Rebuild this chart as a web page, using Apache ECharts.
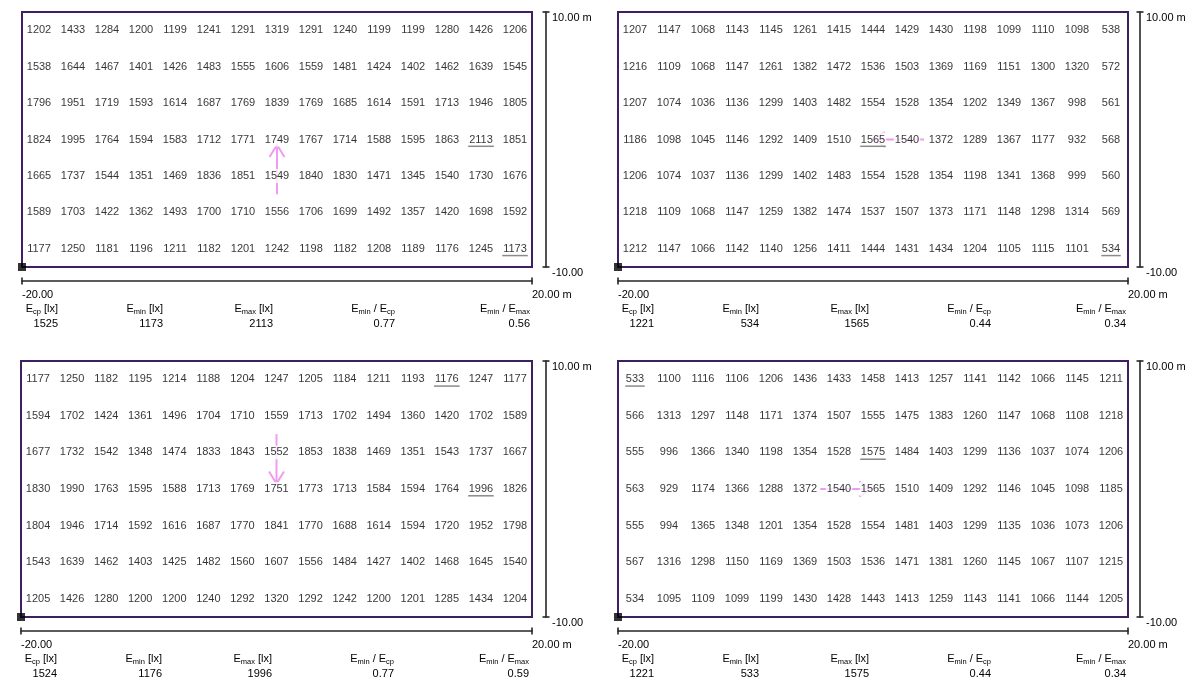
<!DOCTYPE html>
<html><head><meta charset="utf-8">
<script src="https://cdn.jsdelivr.net/npm/echarts@6/dist/echarts.min.js"></script>
<style>html,body{margin:0;padding:0;background:#fff}#c{width:1200px;height:700px}</style>
</head><body><div id="c"></div>
<script>
// ---------- data ----------
const colCount = 15, rowCount = 7;
const xRange = [-20, 20];
const yRange = [-10, 10];
const xTickLabels = ['-20.00', '20.00 m'];
const yTickLabels = ['-10.00', '10.00 m'];
const statLabels = [
  '{n|E}{s|cp}{n| [lx]}',
  '{n|E}{s|min}{n| [lx]}',
  '{n|E}{s|max}{n| [lx]}',
  '{n|E}{s|min}{n| / E}{s|cp}',
  '{n|E}{s|min}{n| / E}{s|max}'
];

const gridA = [
  [1202,1433,1284,1200,1199,1241,1291,1319,1291,1240,1199,1199,1280,1426,1206],
  [1538,1644,1467,1401,1426,1483,1555,1606,1559,1481,1424,1402,1462,1639,1545],
  [1796,1951,1719,1593,1614,1687,1769,1839,1769,1685,1614,1591,1713,1946,1805],
  [1824,1995,1764,1594,1583,1712,1771,1749,1767,1714,1588,1595,1863,2113,1851],
  [1665,1737,1544,1351,1469,1836,1851,1549,1840,1830,1471,1345,1540,1730,1676],
  [1589,1703,1422,1362,1493,1700,1710,1556,1706,1699,1492,1357,1420,1698,1592],
  [1177,1250,1181,1196,1211,1182,1201,1242,1198,1182,1208,1189,1176,1245,1173]
];
const gridB = [
  [1207,1147,1068,1143,1145,1261,1415,1444,1429,1430,1198,1099,1110,1098,538],
  [1216,1109,1068,1147,1261,1382,1472,1536,1503,1369,1169,1151,1300,1320,572],
  [1207,1074,1036,1136,1299,1403,1482,1554,1528,1354,1202,1349,1367,998,561],
  [1186,1098,1045,1146,1292,1409,1510,1565,1540,1372,1289,1367,1177,932,568],
  [1206,1074,1037,1136,1299,1402,1483,1554,1528,1354,1198,1341,1368,999,560],
  [1218,1109,1068,1147,1259,1382,1474,1537,1507,1373,1171,1148,1298,1314,569],
  [1212,1147,1066,1142,1140,1256,1411,1444,1431,1434,1204,1105,1115,1101,534]
];
const gridC = [
  [1177,1250,1182,1195,1214,1188,1204,1247,1205,1184,1211,1193,1176,1247,1177],
  [1594,1702,1424,1361,1496,1704,1710,1559,1713,1702,1494,1360,1420,1702,1589],
  [1677,1732,1542,1348,1474,1833,1843,1552,1853,1838,1469,1351,1543,1737,1667],
  [1830,1990,1763,1595,1588,1713,1769,1751,1773,1713,1584,1594,1764,1996,1826],
  [1804,1946,1714,1592,1616,1687,1770,1841,1770,1688,1614,1594,1720,1952,1798],
  [1543,1639,1462,1403,1425,1482,1560,1607,1556,1484,1427,1402,1468,1645,1540],
  [1205,1426,1280,1200,1200,1240,1292,1320,1292,1242,1200,1201,1285,1434,1204]
];
const gridD = [
  [533,1100,1116,1106,1206,1436,1433,1458,1413,1257,1141,1142,1066,1145,1211],
  [566,1313,1297,1148,1171,1374,1507,1555,1475,1383,1260,1147,1068,1108,1218],
  [555,996,1366,1340,1198,1354,1528,1575,1484,1403,1299,1136,1037,1074,1206],
  [563,929,1174,1366,1288,1372,1540,1565,1510,1409,1292,1146,1045,1098,1185],
  [555,994,1365,1348,1201,1354,1528,1554,1481,1403,1299,1135,1036,1073,1206],
  [567,1316,1298,1150,1169,1369,1503,1536,1471,1381,1260,1145,1067,1107,1215],
  [534,1095,1109,1099,1199,1430,1428,1443,1413,1259,1143,1141,1066,1144,1205]
];

const statsA = ['1525', '1173', '2113', '0.77', '0.56'];
const statsB = ['1221', '534', '1565', '0.44', '0.34'];
const statsC = ['1524', '1176', '1996', '0.77', '0.59'];
const statsD = ['1221', '533', '1575', '0.44', '0.34'];

// underlined cells (min / max) : [row, col]
const marksA = [[3, 13], [6, 14]];
const marksB = [[3, 7], [6, 14]];
const marksC = [[0, 12], [3, 13]];
const marksD = [[0, 0], [2, 7]];

// gradient arrows in cell units: [fromRow, fromCol, toRow, toCol]
const arrowA = [4.5, 7, 3.15, 7];
const arrowB = [3, 8.5, 3, 7.0];
const arrowC = [1.5, 7, 2.85, 7];
const arrowD = [3, 5.45, 3, 6.95];

// ---------- layout / style ----------
const FONT = "'Liberation Sans', Arial, sans-serif";
const PINK = '#f09cf0';
const BORDER = '#3e1f63';
const SCALE = '#262626';
const statRightEnds = [36, 141, 251, 373, 508];

const panels = [
  { grid: gridA, stats: statsA, marks: marksA, arrow: arrowA, left: 22,  top: 12,  width: 510, height: 255, yOff: 14 },
  { grid: gridB, stats: statsB, marks: marksB, arrow: arrowB, left: 618, top: 12,  width: 510, height: 255, yOff: 12 },
  { grid: gridC, stats: statsC, marks: marksC, arrow: arrowC, left: 21,  top: 361, width: 511, height: 256, yOff: 14 },
  { grid: gridD, stats: statsD, marks: marksD, arrow: arrowD, left: 618, top: 361, width: 510, height: 256, yOff: 12 }
];

const cellX = c => xRange[0] + (c + 0.5) * (xRange[1] - xRange[0]) / colCount;
const cellY = r => yRange[1] - (r + 0.5) * (yRange[1] - yRange[0]) / rowCount;

const grids = [], xAxes = [], yAxes = [], series = [], graphics = [];

panels.forEach((p, k) => {
  grids.push({
    left: p.left, top: p.top, width: p.width, height: p.height,
    show: true, borderColor: BORDER, borderWidth: 2, backgroundColor: 'transparent',
    containLabel: false, outerBoundsMode: 'none'
  });
  const xFmt = v => (v === xRange[0] ? xTickLabels[0] : xTickLabels[1]);
  const yFmt = v => (v === yRange[0] ? yTickLabels[0] : yTickLabels[1]);
  // main x scale bar
  xAxes.push({
    type: 'value', gridIndex: k, min: xRange[0], max: xRange[1], position: 'bottom', offset: 14,
    axisLine: { show: true, onZero: false, lineStyle: { color: SCALE, width: 1.6 } },
    axisTick: { show: true, inside: false, length: 3.5, customValues: xRange, lineStyle: { color: SCALE, width: 1.6 } },
    axisLabel: { show: true, customValues: xRange, formatter: xFmt, align: 'left', margin: 8,
      color: '#000', fontSize: 11, fontFamily: FONT },
    splitLine: { show: false }
  });
  // overlay for inner half of the end caps
  xAxes.push({
    type: 'value', gridIndex: k, min: xRange[0], max: xRange[1], position: 'bottom', offset: 14,
    axisLine: { show: false, onZero: false },
    axisTick: { show: true, inside: true, length: 3.5, customValues: xRange, lineStyle: { color: SCALE, width: 1.6 } },
    axisLabel: { show: false }, splitLine: { show: false }
  });
  yAxes.push({
    type: 'value', gridIndex: k, min: yRange[0], max: yRange[1], position: 'right', offset: p.yOff,
    axisLine: { show: true, onZero: false, lineStyle: { color: SCALE, width: 1.6 } },
    axisTick: { show: true, inside: false, length: 3.5, customValues: yRange, lineStyle: { color: SCALE, width: 1.6 } },
    axisLabel: { show: true, customValues: yRange, formatter: yFmt, align: 'left', verticalAlign: 'top',
      margin: 6, color: '#000', fontSize: 11, fontFamily: FONT },
    splitLine: { show: false }
  });
  yAxes.push({
    type: 'value', gridIndex: k, min: yRange[0], max: yRange[1], position: 'right', offset: p.yOff,
    axisLine: { show: false, onZero: false },
    axisTick: { show: true, inside: true, length: 3.5, customValues: yRange, lineStyle: { color: SCALE, width: 1.6 } },
    axisLabel: { show: false }, splitLine: { show: false }
  });

  const xi = 2 * k, yi = 2 * k;

  // arrow
  const a = p.arrow;
  series.push({
    type: 'custom', xAxisIndex: xi, yAxisIndex: yi, z: 2, silent: true, clip: false,
    data: [[cellX(a[1]), cellY(a[0]), cellX(a[3]), cellY(a[2])]],
    renderItem: (params, api) => {
      const p0 = api.coord([api.value(0), api.value(1)]);
      const p1 = api.coord([api.value(2), api.value(3)]);
      const dx = p1[0] - p0[0], dy = p1[1] - p0[1];
      const len = Math.hypot(dx, dy), ux = dx / len, uy = dy / len;
      const hl = 12, hw = 7.5;
      const b = [p1[0] - ux * hl, p1[1] - uy * hl];
      return {
        type: 'group', children: [
          { type: 'line', shape: { x1: p0[0], y1: p0[1], x2: p1[0], y2: p1[1] }, style: { stroke: PINK, lineWidth: 2 } },
          { type: 'polyline', shape: { points: [[b[0] - uy * hw, b[1] + ux * hw], [p1[0], p1[1]], [b[0] + uy * hw, b[1] - ux * hw]] },
            style: { stroke: PINK, lineWidth: 2, fill: null } }
        ]
      };
    }
  });

  // value labels
  const pts = [];
  p.grid.forEach((row, r) => row.forEach((v, c) => pts.push([cellX(c), cellY(r), v])));
  series.push({
    type: 'scatter', xAxisIndex: xi, yAxisIndex: yi, z: 3, silent: true,
    symbol: 'rect', symbolSize: 1, itemStyle: { color: 'rgba(0,0,0,0)' },
    label: { show: true, position: 'inside', formatter: q => String(q.value[2]),
      color: '#000', fontSize: 11, fontFamily: FONT, backgroundColor: '#fff', padding: [1, 1], lineHeight: 12 },
    emphasis: { disabled: true },
    data: pts
  });

  // underlines for min / max
  series.push({
    type: 'custom', xAxisIndex: xi, yAxisIndex: yi, z: 4, silent: true, clip: false,
    data: p.marks.map(m => [cellX(m[1]), cellY(m[0]), String(p.grid[m[0]][m[1]]).length]),
    renderItem: (params, api) => {
      const c = api.coord([api.value(0), api.value(1)]);
      const w = api.value(2) * 6.15 + 1;
      return { type: 'line', shape: { x1: c[0] - w / 2, y1: c[1] + 6.8, x2: c[0] + w / 2, y2: c[1] + 6.8 },
        style: { stroke: '#8a8a8a', lineWidth: 1.5 } };
    }
  });

  // origin marker
  series.push({
    type: 'scatter', xAxisIndex: xi, yAxisIndex: yi, z: 5, silent: true, clip: false,
    symbol: 'rect', symbolSize: 8, itemStyle: { color: '#000' },
    data: [[xRange[0], yRange[0]]]
  });

  // statistics block
  const B = p.top + p.height;
  statLabels.forEach((lab, i) => {
    graphics.push({
      type: 'text', x: p.left + statRightEnds[i], y: B + 41.5, silent: true,
      style: {
        text: lab, align: 'right', verticalAlign: 'middle',
        rich: {
          n: { fontSize: 11, fontFamily: FONT, fill: '#000', lineHeight: 15 },
          s: { fontSize: 7.5, fontFamily: FONT, fill: '#000', lineHeight: 7, verticalAlign: 'bottom' }
        }
      }
    });
    graphics.push({
      type: 'text', x: p.left + statRightEnds[i], y: B + 57, silent: true,
      style: { text: p.stats[i], align: 'right', verticalAlign: 'middle', fontSize: 11, fontFamily: FONT, fill: '#000' }
    });
  });
});

const chart = echarts.init(document.getElementById('c'), null, { renderer: 'canvas' });
chart.setOption({
  animation: false,
  backgroundColor: '#fff',
  grid: grids,
  xAxis: xAxes,
  yAxis: yAxes,
  series: series,
  graphic: graphics
});
</script>
</body></html>
